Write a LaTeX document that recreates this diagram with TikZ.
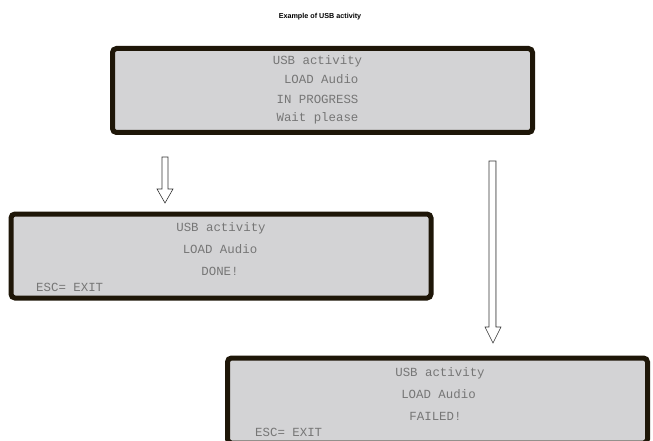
\documentclass[tikz,border=0pt]{standalone}
\usepackage{fontspec}
\setmainfont{Liberation Sans}
\newfontfamily\lcdfont{Liberation Mono}
\usetikzlibrary{calc}
\begin{document}
\begin{tikzpicture}[x=1pt,y=-1pt,
  lcd/.style={draw=lcdborder,line width=5pt,fill=lcdfill,rounded corners=4pt,minimum width=420pt,minimum height=84pt,inner sep=0pt},
  lcdtxt/.style={font=\lcdfont\fontsize{12.4}{14}\selectfont,text=lcdtext,inner sep=0pt,anchor=base},
  lcdesc/.style={lcdtxt,anchor=base west},
  blockarrow/.style={draw=black!80,fill=white,line width=0.6pt,line join=miter}]
\definecolor{lcdborder}{HTML}{1E1608}
\definecolor{lcdfill}{HTML}{D3D3D5}
\definecolor{lcdtext}{HTML}{767676}
\useasboundingbox (0,0) rectangle (653,441);
\fill[white] (0,0) rectangle (653,441);
\node[font=\bfseries\fontsize{7.2}{9}\selectfont] (title) at (320,17) {Example of USB activity};
% box 1
\node[lcd] (b1) at (322.5,90.5) {};
\node[lcdtxt] (b1l1) at (317.5,65) {USB activity};
\node[lcdtxt] (b1l2) at (317.5,84) {\ LOAD Audio};
\node[lcdtxt] (b1l3) at (317.5,103.5) {IN PROGRESS};
\node[lcdtxt] (b1l4) at (317.5,122) {Wait please};
% box 2
\node[lcd] (b2) at (221,256) {};
\node[lcdtxt] (b2l1) at (221,231) {USB activity};
\node[lcdtxt] (b2l2) at (220,253) {LOAD Audio};
\node[lcdtxt] (b2l3) at (220,275) {DONE!};
\node[lcdesc] (b2l4) at (36,291) {ESC= EXIT};
% box 3
\node[lcd,minimum height=85pt] (b3) at (437.5,400.5) {};
\node[lcdtxt] (b3l1) at (440,376) {USB activity};
\node[lcdtxt] (b3l2) at (438.5,398) {LOAD Audio};
\node[lcdtxt] (b3l3) at (435.5,420) {FAILED!};
\node[lcdesc] (b3l4) at (255,436) {ESC= EXIT};
% arrows
\coordinate (a1) at (165,157);
\coordinate (a2) at (492.5,161);
\draw[blockarrow] ($(a1)+(-3,0)$) -- ++(0,32) -- ++(-5,0) -- (165,203) -- (173,189) -- ++(-5,0) -- ++(0,-32) -- cycle;
\draw[blockarrow] (489,161) -- (489,327) -- (485,327) -- (493,343) -- (501,327) -- (496,327) -- (496,161) -- cycle;
\draw[gray!70,line width=0.8pt] (495,161.5) -- (495,327);
\end{tikzpicture}
\end{document}
